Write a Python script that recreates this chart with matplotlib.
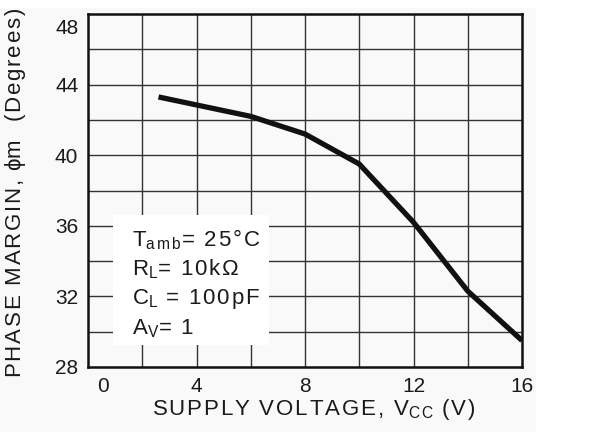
import matplotlib
matplotlib.use("Agg")
import matplotlib.pyplot as plt
import matplotlib.transforms as mtransforms
from matplotlib.patches import Rectangle

plt.rcParams['font.family'] = ['Liberation Sans', 'DejaVu Sans']
plt.rcParams['mathtext.fontset'] = 'custom'
plt.rcParams['mathtext.rm'] = 'Liberation Sans'
plt.rcParams['mathtext.it'] = 'Liberation Sans'
plt.rcParams['mathtext.sf'] = 'Liberation Sans'

supply_voltage = [2.6, 6.0, 8.0, 10.0, 12.0, 14.0, 16.0]
phase_margin = [43.3, 42.2, 41.2, 39.5, 36.2, 32.3, 29.5]
x_ticks = [0, 4, 8, 12, 16]
y_ticks = [28, 32, 36, 40, 44, 48]

HS = '\u200a'


def spaced(s, n=1):
    return (HS * n).join(s)


conditions = [
    'T$_{\\rm a\\,m\\,b}$' + spaced('= 25°C'),
    'R$_{\\rm L}$' + spaced('= 10kΩ'),
    'C$_{\\rm L}$' + spaced(' = 100pF'),
    'A$_{\\rm V}$' + spaced('= 1'),
]
x_label = spaced('SUPPLY VOLTAGE, V') + '$_{\\rm C\\,C}$' + spaced(' (V)')
y_label = spaced('PHASE MARGIN, ') + '$\\phi$' + spaced('m  (Degrees)')

fig = plt.figure(figsize=(6.06, 4.32), dpi=100)
fig.patch.set_facecolor('white')
fig.patches.append(Rectangle((0, 0), 536/606, 1 - 8/432, transform=fig.transFigure,
                             facecolor='#f9f9f9', edgecolor='none', zorder=-10))
ax = fig.add_axes([88/606, 1 - 367/432, (522-88)/606, (367-14)/432])
ax.set_facecolor('#f9f9f9')
ax.set_xlim(0, 16)
ax.set_ylim(28, 48)

for gx in range(2, 16, 2):
    ax.axvline(gx, color='#333333', lw=1.0, zorder=1)
for gy in range(30, 48, 2):
    ax.axhline(gy, color='#333333', lw=1.0, zorder=1)

ax.plot(supply_voltage, phase_margin, color='#111111', lw=3.8, solid_capstyle='butt', zorder=3)

ax.add_patch(Rectangle((0.92, 29.25), 6.68-0.92, 36.6-29.25, facecolor='white', edgecolor='none', zorder=2))
for i, t in enumerate(conditions):
    ax.text(1.62, 35.2 - i*1.67, t, fontsize=16, va='center', ha='left', zorder=4, color='#1a1a1a')

ax.set_xticks(x_ticks)
ax.set_yticks(y_ticks)
ax.tick_params(length=0, labelsize=15, colors='#1a1a1a', pad=7)
for s in ax.spines.values():
    s.set_linewidth(1.8)
    s.set_color('#111111')

off = mtransforms.ScaledTranslation(15/100, 0, fig.dpi_scale_trans)
lbl = ax.get_xticklabels()[0]
lbl.set_transform(lbl.get_transform() + off)
off2 = mtransforms.ScaledTranslation(0, -13/100, fig.dpi_scale_trans)
lbl2 = ax.get_yticklabels()[-1]
lbl2.set_transform(lbl2.get_transform() + off2)

ax.set_xlabel(x_label, fontsize=16, color='#1a1a1a')
ax.xaxis.set_label_coords((314-88)/(522-88), -(410-367)/(367-14))
ax.xaxis.label.set_va('center')
ax.set_ylabel(y_label, fontsize=16, color='#1a1a1a')
ax.yaxis.set_label_coords(-(88-16)/(522-88), (367-193)/(367-14))
ax.yaxis.label.set_va('center')

fig.savefig('out.png', dpi=100)
